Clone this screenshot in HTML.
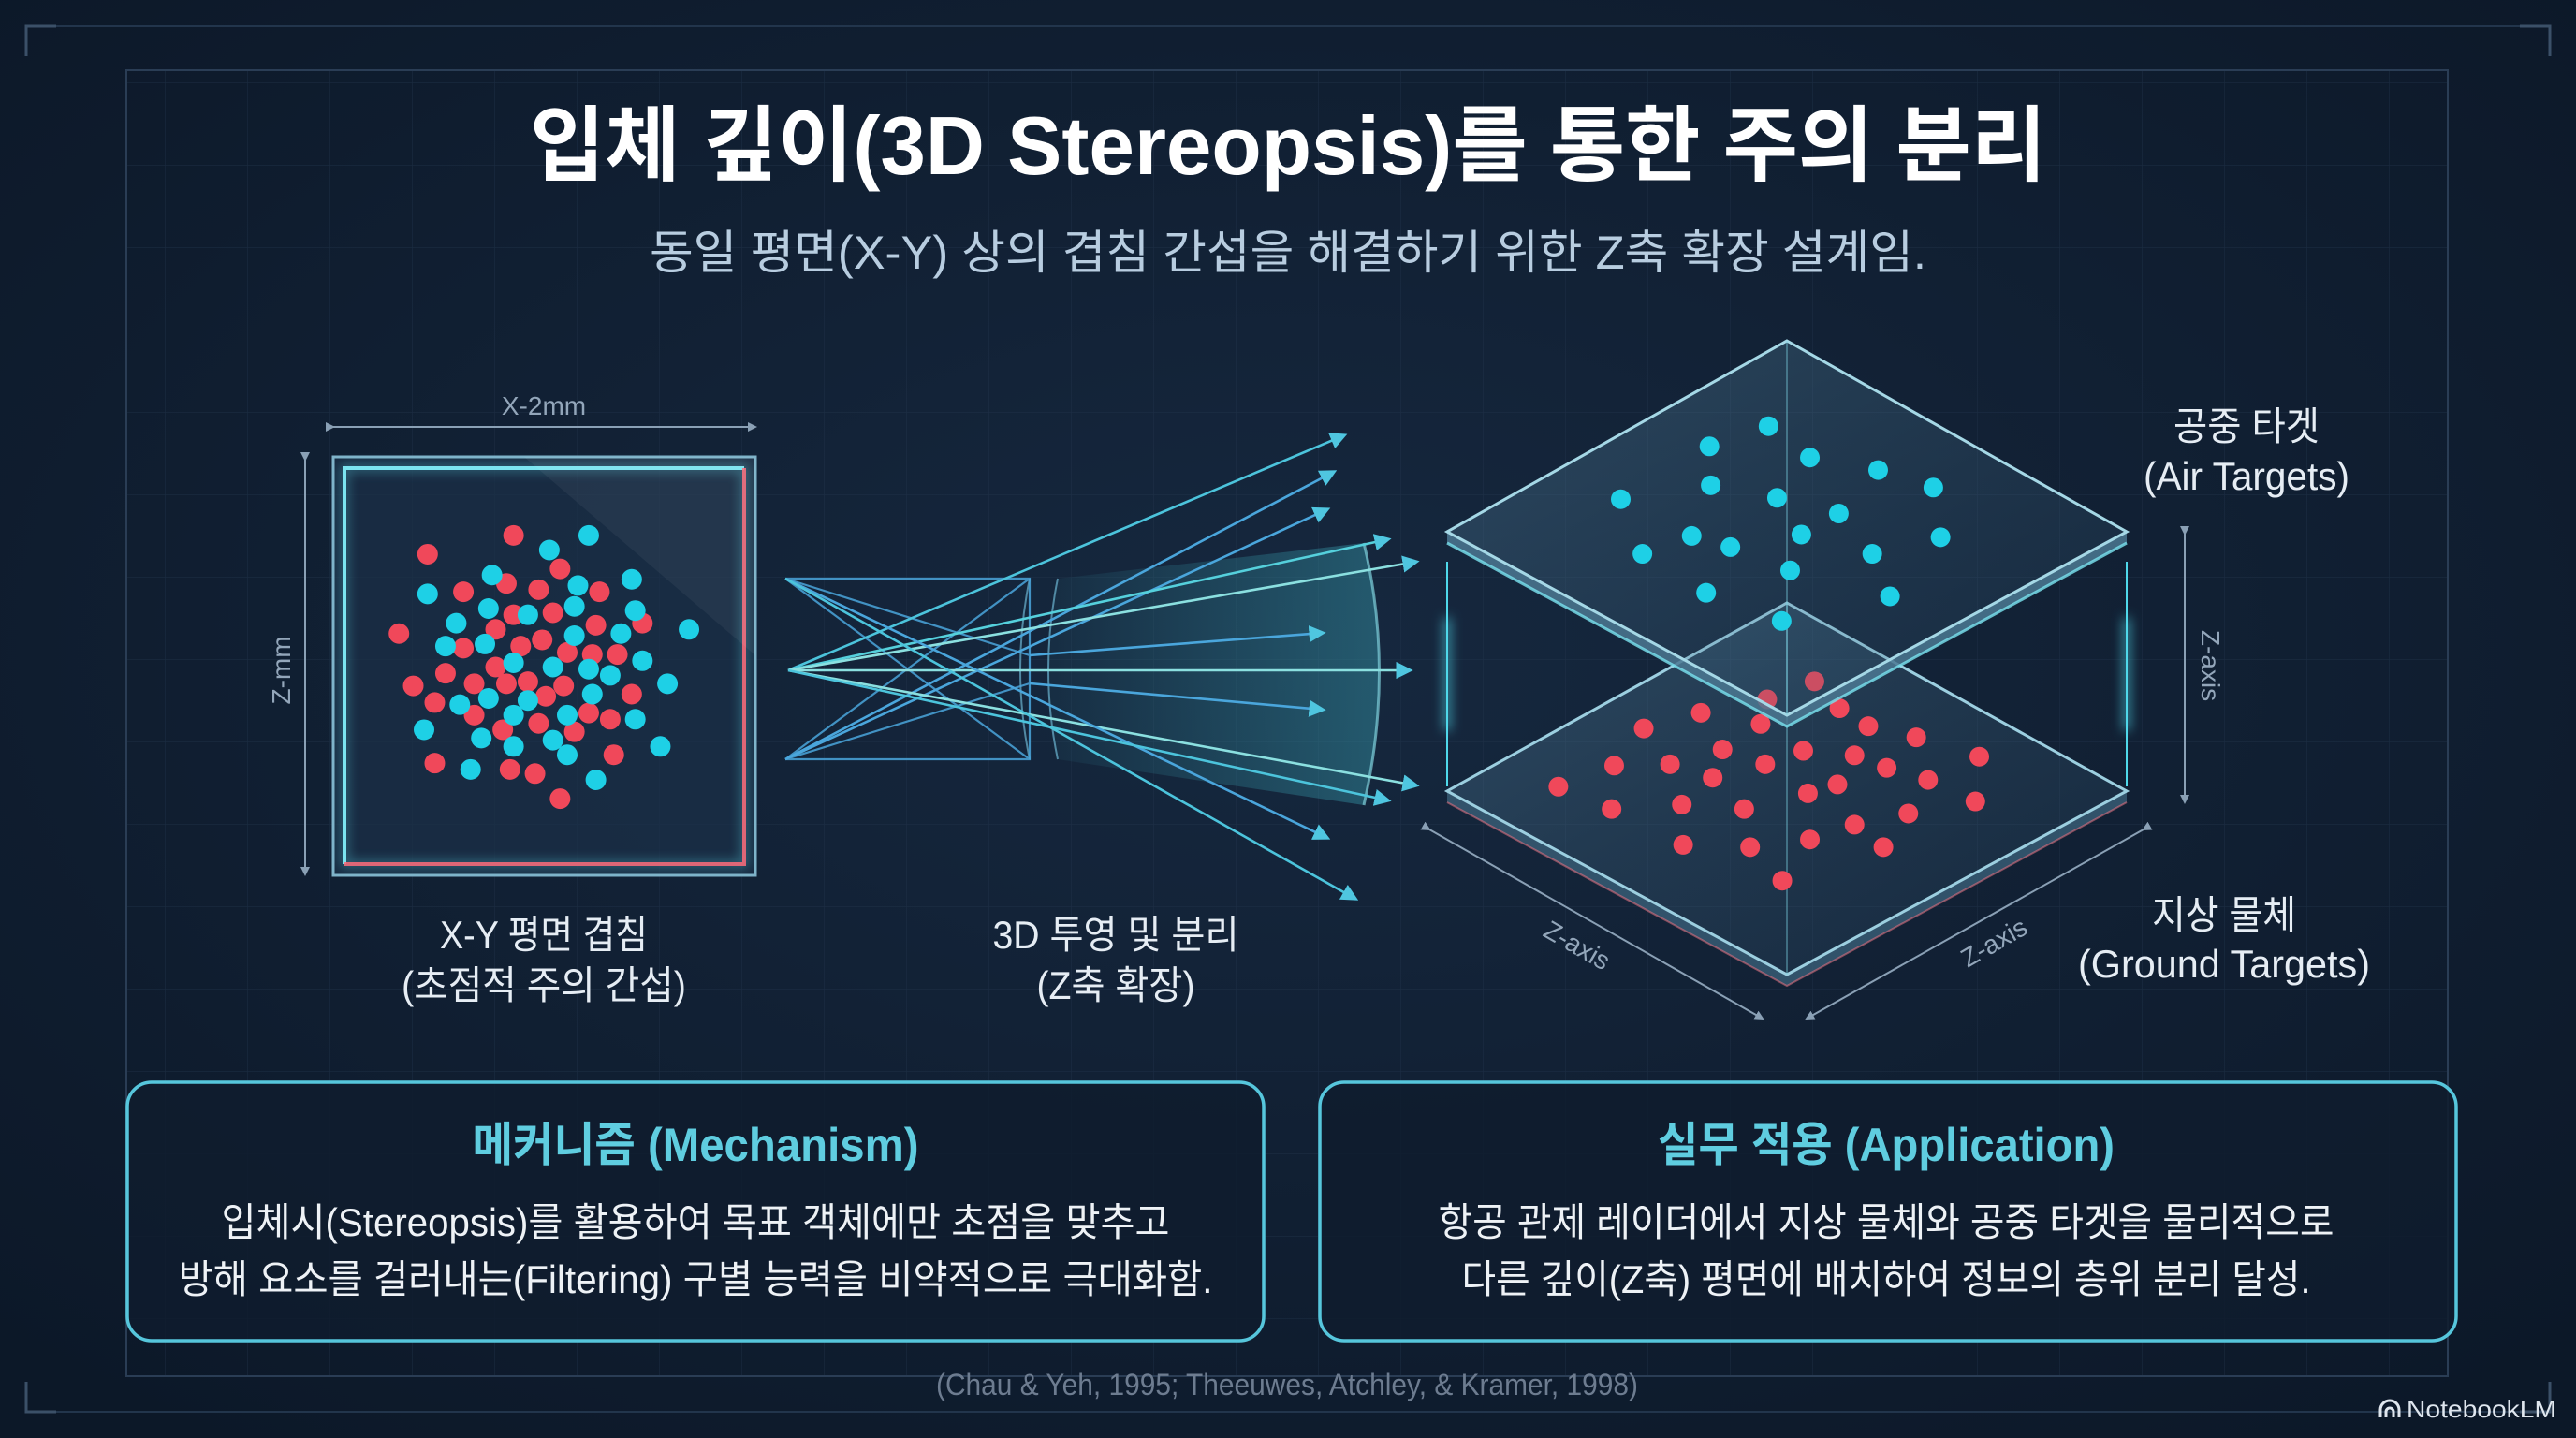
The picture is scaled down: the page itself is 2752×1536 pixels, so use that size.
<!DOCTYPE html>
<html><head><meta charset="utf-8"><style>
html,body{margin:0;padding:0;background:#0f1d30;}
svg{display:block}
text{font-family:"Liberation Sans","Noto Sans CJK KR",sans-serif;}
</style></head><body>
<svg width="2752" height="1536" viewBox="0 0 2752 1536" xmlns="http://www.w3.org/2000/svg">
<defs>
<radialGradient id="bg" cx="50%" cy="45%" r="70%">
<stop offset="0" stop-color="#16283f"/><stop offset="1" stop-color="#0c1828"/>
</radialGradient>
<pattern id="grid" width="88" height="88" patternUnits="userSpaceOnUse">
<path d="M88 0H0V88" fill="none" stroke="#24374f" stroke-width="1.2" opacity="0.55"/>
</pattern>
<linearGradient id="plane" x1="0" y1="0" x2="1" y2="1">
<stop offset="0" stop-color="#6fa8c4" stop-opacity="0.28"/><stop offset="1" stop-color="#2a4d6a" stop-opacity="0.18"/>
</linearGradient>
<linearGradient id="fan" x1="0" y1="0" x2="1" y2="0">
<stop offset="0" stop-color="#3fb8c8" stop-opacity="0.05"/><stop offset="1" stop-color="#3fb8c8" stop-opacity="0.35"/>
</linearGradient>
<filter id="glow" x="-20%" y="-20%" width="140%" height="140%"><feGaussianBlur stdDeviation="6"/></filter>
<marker id="ah" viewBox="0 0 10 10" refX="8" refY="5" markerWidth="7" markerHeight="7" orient="auto"><path d="M0 0L10 5L0 10z" fill="#4fc6e0"/></marker>
<marker id="ah2" viewBox="0 0 10 10" refX="8" refY="5" markerWidth="5" markerHeight="5" orient="auto"><path d="M0 0L10 5L0 10z" fill="#8aa0b5"/></marker>
</defs>
<rect width="2752" height="1536" fill="url(#bg)"/>
<rect x="135" y="75" width="2480" height="1395" fill="url(#grid)"/>
<rect x="135" y="75" width="2480" height="1395" fill="none" stroke="#2a3d55" stroke-width="2"/>
<path d="M28 60V28H60M2692 28H2724V60M28 1476V1508H60M2724 1476V1508H2692" fill="none" stroke="#3b5068" stroke-width="3"/>
<line x1="60" y1="28" x2="2692" y2="28" stroke="#22354c" stroke-width="2"/>
<line x1="60" y1="1508" x2="2692" y2="1508" stroke="#22354c" stroke-width="2"/>

<text x="1376" y="186" text-anchor="middle" font-size="88" font-weight="bold" fill="#ffffff" textLength="1620" lengthAdjust="spacingAndGlyphs">입체 깊이(3D Stereopsis)를 통한 주의 분리</text>
<text x="1376" y="287" text-anchor="middle" font-size="50" fill="#b8cde0" textLength="1364" lengthAdjust="spacingAndGlyphs">동일 평면(X-Y) 상의 겹침 간섭을 해결하기 위한 Z축 확장 설계임.</text>

<line x1="356" y1="456" x2="807" y2="456" stroke="#8aa0b5" stroke-width="2" marker-start="url(#ah2)" marker-end="url(#ah2)"/>
<text x="581" y="443" text-anchor="middle" font-size="28" fill="#93a6ba">X-2mm</text>
<line x1="326" y1="491" x2="326" y2="934" stroke="#8aa0b5" stroke-width="2" marker-start="url(#ah2)" marker-end="url(#ah2)"/>
<text transform="translate(310,716) rotate(-90)" text-anchor="middle" font-size="28" fill="#93a6ba">Z-mm</text>
<rect x="356" y="488" width="451" height="447" fill="#1b3048" fill-opacity="0.7" stroke="#7fb3c9" stroke-width="3"/>
<rect x="368" y="500" width="427" height="423" fill="none" stroke="#5fd8e8" stroke-width="5" filter="url(#glow)" opacity="0.6"/>
<path d="M368 923V500H795" fill="none" stroke="#7be4f0" stroke-width="4"/>
<path d="M795 500V923H368" fill="none" stroke="#ff6b7a" stroke-width="4" opacity="0.85"/>
<polygon points="560,488 807,488 807,700" fill="#ffffff" opacity="0.05"/>
<g transform="translate(300,400) scale(0.765,0.4464)" fill="none" stroke-linecap="round">
<path vector-effect="non-scaling-stroke" stroke="#f0485a" stroke-width="22" d="M325 385h0M205 430h0M255 520h0M315 500h0M360 515h0M390 465h0M445 520h0M325 575h0M380 570h0M300 610h0M440 600h0M505 595h0M165 620h0M255 655h0M335 650h0M365 635h0M400 665h0M435 670h0M470 670h0M230 715h0M300 700h0M345 735h0M395 745h0M185 745h0M215 785h0M270 740h0M315 740h0M370 770h0M490 765h0M270 815h0M430 810h0M460 825h0M310 850h0M360 835h0M410 855h0M465 910h0M215 930h0M320 945h0M355 955h0M390 1015h0"/>
<path vector-effect="non-scaling-stroke" stroke="#1ed0e6" stroke-width="22" d="M430 385h0M375 420h0M295 480h0M490 490h0M205 525h0M415 505h0M410 555h0M290 560h0M345 575h0M495 565h0M245 595h0M410 625h0M475 620h0M570 610h0M230 650h0M285 645h0M325 690h0M380 700h0M430 705h0M505 685h0M460 720h0M540 740h0M250 790h0M345 780h0M290 775h0M435 765h0M400 815h0M325 815h0M495 825h0M200 850h0M280 870h0M380 875h0M325 890h0M400 910h0M530 890h0M265 945h0M440 970h0"/>
</g>
<text x="581" y="1013" text-anchor="middle" font-size="42" fill="#e6edf4" textLength="222" lengthAdjust="spacingAndGlyphs">X-Y 평면 겹침</text>
<text x="581" y="1067" text-anchor="middle" font-size="42" fill="#e6edf4" textLength="304" lengthAdjust="spacingAndGlyphs">(초점적 주의 간섭)</text>

<path d="M1130 618 L1457 580 Q1490 716 1457 860 L1130 811 Q1110 716 1130 618Z" fill="url(#fan)"/>
<path d="M1457 580 Q1490 716 1457 860" fill="none" stroke="#7fd0dc" stroke-width="3" opacity="0.7"/>
<path d="M1100 618 Q1080 716 1100 811 M1130 618 Q1110 716 1130 811" fill="none" stroke="#6bb3d0" stroke-width="2" opacity="0.7"/>
<g stroke="#4aa6dc" stroke-width="2.2" fill="none" opacity="0.85">
<path d="M839 618H1100V811H839M839 618L1100 811M839 811L1100 618M839 618L1100 700M839 811L1100 730"/>
</g>
<g stroke-width="2.6" fill="none" marker-end="url(#ah)">
<line x1="842" y1="716" x2="1436" y2="465" stroke="#4cc4dc"/>
<line x1="839" y1="811" x2="1425" y2="504" stroke="#4aa6dc"/>
<line x1="839" y1="811" x2="1418" y2="544" stroke="#4aa6dc"/>
<line x1="842" y1="716" x2="1483" y2="576" stroke="#55d0dc"/>
<line x1="842" y1="716" x2="1513" y2="600" stroke="#8be0e0"/>
<line x1="1100" y1="700" x2="1413" y2="676" stroke="#4aa6dc"/>
<line x1="842" y1="716" x2="1506" y2="716" stroke="#8be0e0"/>
<line x1="1100" y1="730" x2="1413" y2="758" stroke="#4aa6dc"/>
<line x1="842" y1="716" x2="1513" y2="839" stroke="#8be0e0"/>
<line x1="839" y1="618" x2="1418" y2="895" stroke="#4aa6dc"/>
<line x1="839" y1="618" x2="1448" y2="960" stroke="#4cc4dc"/>
<line x1="842" y1="716" x2="1483" y2="855" stroke="#4cc4dc"/>
</g>
<text x="1192" y="1013" text-anchor="middle" font-size="42" fill="#e6edf4" textLength="263" lengthAdjust="spacingAndGlyphs">3D 투영 및 분리</text>
<text x="1192" y="1067" text-anchor="middle" font-size="42" fill="#e6edf4" textLength="169" lengthAdjust="spacingAndGlyphs">(Z축 확장)</text>

<g stroke="#4fd8ea" stroke-width="5" filter="url(#glow)">
<line x1="1546" y1="660" x2="1546" y2="780"/><line x1="2272" y1="660" x2="2272" y2="780"/>
</g>
<line x1="1546" y1="600" x2="1546" y2="840" stroke="#4fd8ea" stroke-width="2"/>
<line x1="2272" y1="600" x2="2272" y2="840" stroke="#4fd8ea" stroke-width="2"/>
<polygon points="1546,845 1909,1041 1909,1053 1546,857" fill="#3a5f78" opacity="0.8"/>
<polygon points="2272,845 1909,1041 1909,1053 2272,857" fill="#3a5f78" opacity="0.8"/>
<polygon points="1909,644 2272,845 1909,1041 1546,845" fill="url(#plane)" stroke="#9ccfe0" stroke-width="3"/>
<line x1="1909" y1="644" x2="1909" y2="1041" stroke="#7fd6e6" stroke-width="1.5" opacity="0.5"/>
<path d="M1546 857L1909 1053L2272 857" fill="none" stroke="#ff7a88" stroke-width="2" opacity="0.5"/>
<g transform="translate(1500,350) scale(0.7015,0.4783)" fill="none" stroke-linecap="round">
<path vector-effect="non-scaling-stroke" stroke="#f0485a" stroke-width="21" d="M625 790h0M553 830h0M452 860h0M663 850h0M365 895h0M543 885h0M707 890h0M780 915h0M485 942h0M608 945h0M320 978h0M405 975h0M550 975h0M686 955h0M876 958h0M735 983h0M470 1005h0M235 1025h0M660 1020h0M798 1010h0M615 1040h0M316 1075h0M423 1065h0M518 1075h0M870 1058h0M768 1085h0M686 1110h0M425 1155h0M527 1160h0M618 1143h0M730 1160h0M576 1235h0"/>
</g>
<polygon points="1546,568 1909,764 1909,776 1546,580" fill="#4b7892" opacity="0.85"/>
<polygon points="2272,568 1909,764 1909,776 2272,580" fill="#4b7892" opacity="0.85"/>
<polygon points="1909,364 2272,568 1909,764 1546,568" fill="url(#plane)" stroke="#a5d8e6" stroke-width="3"/>
<line x1="1909" y1="364" x2="1909" y2="764" stroke="#7fd6e6" stroke-width="1.5" opacity="0.5"/>
<path d="M1546 580L1909 776L2272 580" fill="none" stroke="#7be4f0" stroke-width="3" opacity="0.8"/>
<g transform="translate(1500,350) scale(0.7015,0.4783)" fill="none" stroke-linecap="round">
<path vector-effect="non-scaling-stroke" stroke="#1ed0e6" stroke-width="21" d="M555 220h0M465 265h0M618 290h0M722 318h0M467 352h0M806 357h0M330 383h0M568 380h0M662 415h0M438 465h0M605 462h0M817 468h0M363 505h0M497 490h0M713 505h0M588 542h0M460 592h0M740 600h0M575 655h0"/>
</g>
<line x1="2334" y1="570" x2="2334" y2="857" stroke="#8aa0b5" stroke-width="2" marker-start="url(#ah2)" marker-end="url(#ah2)"/>
<text transform="translate(2352,711) rotate(90)" text-anchor="middle" font-size="28" fill="#93a6ba">Z-axis</text>
<line x1="1527" y1="886" x2="1883" y2="1088" stroke="#8aa0b5" stroke-width="2" marker-start="url(#ah2)" marker-end="url(#ah2)"/>
<text transform="translate(1680,1018) rotate(30)" text-anchor="middle" font-size="28" fill="#93a6ba">Z-axis</text>
<line x1="2290" y1="886" x2="1930" y2="1088" stroke="#8aa0b5" stroke-width="2" marker-start="url(#ah2)" marker-end="url(#ah2)"/>
<text transform="translate(2135,1015) rotate(-30)" text-anchor="middle" font-size="28" fill="#93a6ba">Z-axis</text>

<text x="2400" y="470" text-anchor="middle" font-size="42" fill="#e6edf4" textLength="156" lengthAdjust="spacingAndGlyphs">공중 타겟</text>
<text x="2400" y="523" text-anchor="middle" font-size="42" fill="#e6edf4" textLength="220" lengthAdjust="spacingAndGlyphs">(Air Targets)</text>
<text x="2376" y="992" text-anchor="middle" font-size="42" fill="#e6edf4" textLength="154" lengthAdjust="spacingAndGlyphs">지상 물체</text>
<text x="2376" y="1044" text-anchor="middle" font-size="42" fill="#e6edf4" textLength="312" lengthAdjust="spacingAndGlyphs">(Ground Targets)</text>

<rect x="136" y="1156" width="1214" height="276" rx="26" fill="#0f1c2e" fill-opacity="0.85" stroke="#56c6dc" stroke-width="3.5"/>
<rect x="1410" y="1156" width="1214" height="276" rx="26" fill="#0f1c2e" fill-opacity="0.85" stroke="#56c6dc" stroke-width="3.5"/>
<text x="743" y="1240" text-anchor="middle" font-size="50" font-weight="bold" fill="#5fcde0" textLength="477" lengthAdjust="spacingAndGlyphs">메커니즘 (Mechanism)</text>
<text x="743" y="1320" text-anchor="middle" font-size="42" fill="#eef2f6" textLength="1013" lengthAdjust="spacingAndGlyphs">입체시(Stereopsis)를 활용하여 목표 객체에만 초점을 맞추고</text>
<text x="743" y="1381" text-anchor="middle" font-size="42" fill="#eef2f6" textLength="1105" lengthAdjust="spacingAndGlyphs">방해 요소를 걸러내는(Filtering) 구별 능력을 비약적으로 극대화함.</text>
<text x="2015" y="1240" text-anchor="middle" font-size="50" font-weight="bold" fill="#5fcde0" textLength="488" lengthAdjust="spacingAndGlyphs">실무 적용 (Application)</text>
<text x="2015" y="1320" text-anchor="middle" font-size="42" fill="#eef2f6" textLength="957" lengthAdjust="spacingAndGlyphs">항공 관제 레이더에서 지상 물체와 공중 타겟을 물리적으로</text>
<text x="2015" y="1381" text-anchor="middle" font-size="42" fill="#eef2f6" textLength="907" lengthAdjust="spacingAndGlyphs">다른 깊이(Z축) 평면에 배치하여 정보의 층위 분리 달성.</text>

<text x="1375" y="1490" text-anchor="middle" font-size="32" fill="#6d7c90" textLength="750" lengthAdjust="spacingAndGlyphs">(Chau &amp; Yeh, 1995; Theeuwes, Atchley, &amp; Kramer, 1998)</text>
<text x="2731" y="1514" text-anchor="end" font-size="26" fill="#dfe6ee" textLength="160" lengthAdjust="spacingAndGlyphs">NotebookLM</text>
<path d="M2543 1514v-8a10 10 0 0 1 20 0v8M2549 1514v-6a4 4 0 0 1 8 0v6" fill="none" stroke="#dfe6ee" stroke-width="3"/>
</svg>
</body></html>
